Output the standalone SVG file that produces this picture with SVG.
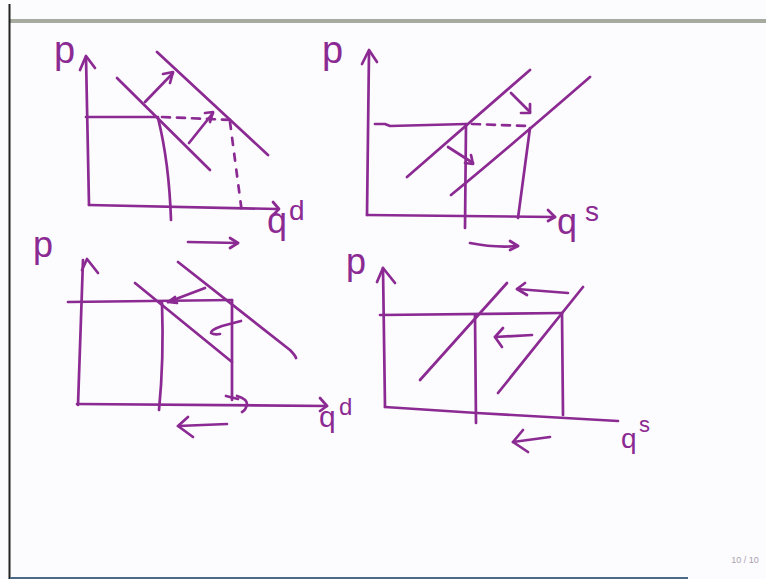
<svg xmlns="http://www.w3.org/2000/svg" width="766" height="579" viewBox="0 0 766 579">
<style>
.ink{fill:none;stroke:#8b2a92;stroke-width:2.7;stroke-linecap:round;stroke-linejoin:round}
.dash{stroke-dasharray:8 7}
.lbl{fill:#8b2a92;font-family:"Liberation Sans","DejaVu Sans",sans-serif}
</style>
<rect x="0" y="0" width="766" height="579" fill="#fcfbfd"/>
<rect x="10" y="19" width="756" height="4" fill="#a6aa9f"/>
<line x1="9.5" y1="4" x2="9.5" y2="579" stroke="#222" stroke-width="2"/>
<line x1="10" y1="578" x2="688" y2="578" stroke="#4a6a85" stroke-width="2"/>
<text x="745" y="563" font-family="Liberation Sans, sans-serif" font-size="9" fill="#a9a2b0" text-anchor="middle">10 / 10</text>

<g id="panel-demand-increase">
<text class="lbl" x="54" y="63" font-size="38">p</text>
<path class="ink" d="M89,205 L86,57"/>
<path class="ink" d="M80,70 L86,56 L95,68"/>
<path class="ink" d="M89,205 L278,209"/>
<path class="ink" d="M273,202 L279,209 L273,215"/>
<path class="ink" d="M86,117 L158,117"/>
<path class="ink dash" d="M162,117 L233,120"/>
<path class="ink" d="M158,118 C166,150 170,190 171,220"/>
<path class="ink" d="M230,122 L242,213" stroke-dasharray="7 9"/>
<path class="ink" d="M117,78 L210,170"/>
<path class="ink" d="M157,52 L268,155"/>
<path class="ink" d="M145,102 L173,73"/>
<path class="ink" d="M163,74 L173,72 L170,83"/>
<path class="ink" d="M189,143 L213,113"/>
<path class="ink" d="M205,113 L213,112 L210,122"/>
<path class="ink" d="M188,242 L238,243"/>
<path class="ink" d="M230,238 L238,243 L230,248"/>
<text class="lbl" x="267" y="233" font-size="36">q</text>
<text class="lbl" x="289" y="220" font-size="28">d</text>
</g>

<g id="panel-supply-increase">
<text class="lbl" x="322" y="63" font-size="38">p</text>
<path class="ink" d="M367,215 L369,52"/>
<path class="ink" d="M362,64 L369,50 L377,62"/>
<path class="ink" d="M367,215 L555,217"/>
<path class="ink" d="M548,210 L555,217 L548,221"/>
<path class="ink" d="M375,124 L385,124 L390,126 L466,124"/>
<path class="ink dash" d="M472,124 L530,126"/>
<path class="ink" d="M466,124 L465,228"/>
<path class="ink" d="M530,128 L518,218"/>
<path class="ink" d="M407,177 L530,70"/>
<path class="ink" d="M451,195 Q500,155 590,77"/>
<path class="ink" d="M511,93 L530,112"/>
<path class="ink" d="M530,104 L530,113 L521,113"/>
<path class="ink" d="M448,147 L473,163"/>
<path class="ink" d="M471,155 L473,164 L465,163"/>
<path class="ink" d="M470,243 Q495,248 518,246"/>
<path class="ink" d="M510,241 L518,246 L510,250"/>
<text class="lbl" x="557" y="234" font-size="36">q</text>
<text class="lbl" x="585" y="221" font-size="28">s</text>
</g>

<g id="panel-demand-decrease">
<text class="lbl" x="33" y="257" font-size="36">p</text>
<path class="ink" d="M78,405 L83,260"/>
<path class="ink" d="M82,270 L87,259 L98,273"/>
<path class="ink" d="M77,404 L327,406"/>
<path class="ink" d="M320,398 L327,406 L320,411"/>
<path class="ink" d="M68,302 L232,300"/>
<path class="ink" d="M162,303 Q164,360 159,410"/>
<path class="ink" d="M232,300 L232,400"/>
<path class="ink" d="M135,283 L232,362"/>
<path class="ink" d="M178,262 L290,350 Q295,355 296,358"/>
<path class="ink" d="M205,288 L168,302"/>
<path class="ink" d="M175,297 L168,302 L177,303"/>
<path class="ink" d="M241,321 L222,326 Q210,330 211,333 Q214,335 220,334"/>
<path class="ink" d="M226,396 L238,399"/>
<path class="ink" d="M237,396 Q247,399 247,404 Q246,410 242,412"/>
<path class="ink" d="M227,424 L178,426"/>
<path class="ink" d="M188,417 L178,426 L193,437"/>
<text class="lbl" x="319" y="427" font-size="30">q</text>
<text class="lbl" x="339" y="415" font-size="24">d</text>
</g>

<g id="panel-supply-decrease">
<text class="lbl" x="346" y="274" font-size="36">p</text>
<path class="ink" d="M385,407 L383,268"/>
<path class="ink" d="M377,282 L383,268 L395,283"/>
<path class="ink" d="M385,407 L477,413 L618,421"/>
<path class="ink" d="M380,315 L562,313"/>
<path class="ink" d="M475,315 L476,423"/>
<path class="ink" d="M562,313 L563,415"/>
<path class="ink" d="M420,380 L507,283"/>
<path class="ink" d="M498,393 L583,287"/>
<path class="ink" d="M568,293 L517,289"/>
<path class="ink" d="M525,283 L517,289 L527,295"/>
<path class="ink" d="M532,335 L495,337"/>
<path class="ink" d="M503,328 L495,337 L502,347"/>
<path class="ink" d="M550,437 L513,442"/>
<path class="ink" d="M523,430 L513,442 L528,452"/>
<text class="lbl" x="621" y="448" font-size="28">q</text>
<text class="lbl" x="639" y="432" font-size="22">s</text>
</g>
</svg>
